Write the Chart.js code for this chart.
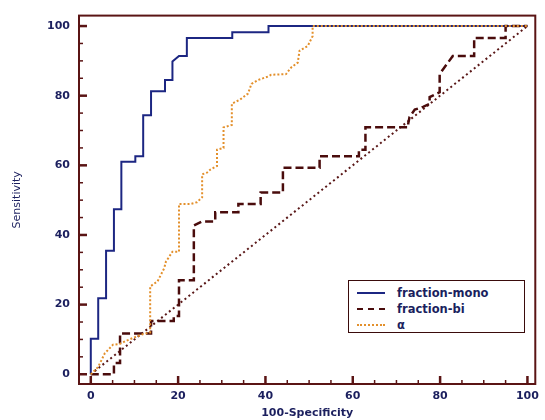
<!DOCTYPE html>
<html>
<head>
<meta charset="utf-8">
<script src="https://cdn.jsdelivr.net/npm/chart.js@4.4.1/dist/chart.umd.min.js"></script>
<style>
  body { margin: 0; background: #fff; }
  #wrap { position: relative; width: 545px; height: 420px; }
  #legend {
    position: absolute; left: 348px; top: 280px; width: 175px; height: 51px;
    border: 1.5px solid #3a0b0b; background: #fff;
    font: bold 11.5px "DejaVu Sans", sans-serif; color: #1b1f5e;
  }
  .row { position: absolute; left: 0; height: 14px; display: flex; align-items: center; }
  .sample { width: 28px; margin-left: 8px; margin-right: 12px; height: 0; }
</style>
</head>
<body>
<div id="wrap">
  <canvas id="roc" width="545" height="420"></canvas>
  <div id="legend"></div>
</div>
<script>
// ROC corner points (100-specificity, sensitivity)
const monoX = [0, 0, 1.7, 1.7, 3.5, 3.5, 5.3, 5.3, 7, 7, 10.2, 10.2, 12, 12, 13.8, 13.8, 17, 17, 18.7, 18.7, 20.2, 22, 22, 32.4, 32.4, 40.7, 40.7, 100];
const monoY = [0, 10.2, 10.2, 21.8, 21.8, 35.5, 35.5, 47.4, 47.4, 61, 61, 62.6, 62.6, 74.4, 74.4, 81.3, 81.3, 84.5, 84.5, 89.8, 91.4, 91.4, 96.6, 96.6, 98.2, 98.2, 100, 100];

const biX = [0, 5.3, 5.3, 6.7, 6.7, 13.8, 13.8, 19, 19, 20.2, 20.2, 23.6, 23.6, 25.5, 28.5, 28.5, 33.8, 33.8, 38.9, 38.9, 44, 44, 52.4, 52.4, 61.4, 61.4, 62.9, 62.9, 72.7, 72.7, 73, 74.2, 76.1, 77.6, 77.6, 79.9, 79.9, 81.8, 82.9, 87.8, 87.8, 95, 95, 100];
const biY = [0, 0, 3.2, 3.2, 11.7, 11.7, 15.3, 15.3, 16.7, 16.7, 27, 27, 42.7, 43.9, 43.9, 46.5, 46.5, 48.9, 48.9, 52.2, 52.2, 59.3, 59.3, 62.6, 62.6, 64.5, 64.5, 70.9, 70.9, 72, 73.9, 76, 76.8, 77.7, 79.6, 81, 86.2, 89.5, 91.4, 91.4, 96.6, 96.6, 100, 100];

const alphaX = [0, 1.7, 3.2, 5.1, 6.6, 8.1, 10, 11.9, 13.6, 13.6, 15.3, 16.8, 17.2, 18.7, 20.2, 20.2, 22.8, 24.3, 25.5, 25.5, 26.6, 27.4, 28.9, 28.9, 30.4, 30.4, 32.3, 32.3, 34.2, 36, 36.8, 38.3, 40.6, 41.3, 44.7, 45.9, 47.4, 47.8, 49.7, 50.8, 50.8, 100];
const alphaY = [0, 2.1, 6, 8.5, 8.7, 9.6, 10.6, 11.5, 12, 25.2, 26.7, 30.4, 32.3, 35.2, 35.2, 48.9, 48.9, 49.4, 50.8, 57.4, 57.9, 58.8, 59.8, 64.5, 65, 70.9, 71.6, 77.7, 78.9, 80.6, 83.4, 84.5, 85.5, 86, 86.2, 88.1, 89.5, 92.9, 94.3, 97.1, 100, 100];

const refX = [0, 100];
const refY = [0, 100];

const seriesNames = ["fraction-mono", "fraction-bi", "\u03b1"];
const axisTicks = [0, 5, 10, 15, 20, 25, 30, 35, 40, 45, 50, 55, 60, 65, 70, 75, 80, 85, 90, 95, 100];
const labelTicks = [0, 20, 40, 60, 80, 100];

const axisColor = "#5a1414";
const textColor = "#1b1f5e";

function toPoints(xs, ys) {
  return xs.map((x, i) => ({ x: x, y: ys[i] }));
}

// box round the plot with inward ticks
const frameTicks = {
  id: "frameTicks",
  afterDraw(chart) {
    const { ctx, chartArea, scales } = chart;
    ctx.save();
    ctx.strokeStyle = axisColor;
    ctx.lineWidth = 2;
    ctx.strokeRect(chartArea.left, chartArea.top, chartArea.right - chartArea.left, chartArea.bottom - chartArea.top);
    axisTicks.forEach((v) => {
      const len = labelTicks.includes(v) ? 8 : 4;
      ctx.lineWidth = labelTicks.includes(v) ? 2.5 : 1.5;
      const px = scales.x.getPixelForValue(v);
      ctx.beginPath();
      ctx.moveTo(px, chartArea.bottom);
      ctx.lineTo(px, chartArea.bottom - len);
      ctx.stroke();
      const py = scales.y.getPixelForValue(v);
      ctx.beginPath();
      ctx.moveTo(chartArea.left, py);
      ctx.lineTo(chartArea.left + len, py);
      ctx.stroke();
    });
    ctx.restore();
  },
};

const tickFont = { family: "DejaVu Sans", size: 11, weight: "bold" };

new Chart(document.getElementById("roc"), {
  type: "line",
  data: {
    datasets: [
      {
        label: seriesNames[2],
        data: toPoints(alphaX, alphaY),
        borderColor: "#e3902c",
        borderWidth: 2,
        borderDash: [2, 2],
        order: 1,
      },
      {
        label: seriesNames[1],
        data: toPoints(biX, biY),
        borderColor: "#4a0c0c",
        borderWidth: 2.5,
        borderDash: [8, 4],
        order: 2,
      },
      {
        label: seriesNames[0],
        data: toPoints(monoX, monoY),
        borderColor: "#1c2682",
        borderWidth: 2,
        order: 3,
      },
      {
        label: "reference",
        data: toPoints(refX, refY),
        borderColor: "#5a1818",
        borderWidth: 2,
        borderDash: [2, 3],
        order: 4,
      },
    ],
  },
  options: {
    responsive: false,
    animation: false,
    layout: { padding: { top: 11, right: 5, left: 0, bottom: 0 } },
    elements: { point: { radius: 0 }, line: { tension: 0, fill: false } },
    plugins: { legend: { display: false }, tooltip: { enabled: false } },
    scales: {
      x: {
        type: "linear",
        min: -2.7,
        max: 101.8,
        afterBuildTicks: (s) => { s.ticks = axisTicks.map((v) => ({ value: v })); },
        afterFit: (s) => { s.height = 36; },
        grid: { display: false, drawTicks: false },
        border: { display: false },
        ticks: {
          autoSkip: false,
          maxRotation: 0,
          padding: 6,
          color: textColor,
          font: tickFont,
          callback: (v) => (labelTicks.includes(v) ? v : ""),
        },
        title: {
          display: true,
          text: "100-Specificity",
          color: textColor,
          font: tickFont,
          padding: { top: 0, bottom: 0 },
        },
      },
      y: {
        type: "linear",
        min: -2.8,
        max: 103,
        afterBuildTicks: (s) => { s.ticks = axisTicks.map((v) => ({ value: v })); },
        afterFit: (s) => { s.width = 79; },
        grid: { display: false, drawTicks: false },
        border: { display: false },
        ticks: {
          autoSkip: false,
          padding: 9,
          color: textColor,
          font: tickFont,
          callback: (v) => (labelTicks.includes(v) ? v : ""),
        },
        title: {
          display: true,
          text: "Sensitivity",
          color: textColor,
          font: { family: "DejaVu Sans", size: 11 },
          padding: { top: 11, bottom: 0 },
        },
      },
    },
  },
  plugins: [frameTicks],
});

// legend inside the plot
const legendStyles = [
  "border-top: 2px solid #1c2682",
  "border-top: 2.5px dashed #4a0c0c",
  "border-top: 2px dotted #e3902c",
];
const legend = document.getElementById("legend");
seriesNames.forEach((name, i) => {
  const row = document.createElement("div");
  row.className = "row";
  row.style.top = 5 + i * 16 + "px";
  row.innerHTML = `<span class="sample" style="${legendStyles[i]}"></span><span>${name}</span>`;
  legend.appendChild(row);
});
</script>
</body>
</html>
